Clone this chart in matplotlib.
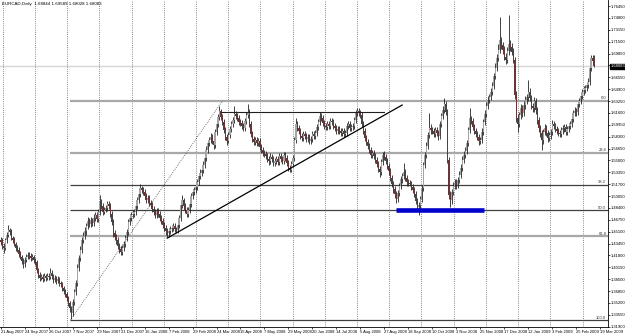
import matplotlib
matplotlib.use("Agg")
import matplotlib.pyplot as plt
import matplotlib.transforms as mtransforms
import numpy as np

plt.rcParams["font.family"] = ["Liberation Sans", "DejaVu Sans"]

# EURCAD daily, one row = 16 bars (one date label step)
first_open = 1.440
closes = [
    1.437, 1.431, 1.428, 1.439, 1.446, 1.453, 1.451, 1.442, 1.439, 1.434, 1.428, 1.426, 1.420, 1.416, 1.410, 1.406,
    1.412, 1.416, 1.419, 1.417, 1.414, 1.416, 1.412, 1.409, 1.398, 1.391, 1.387, 1.388, 1.385, 1.389, 1.387, 1.389,
    1.388, 1.394, 1.389, 1.384, 1.387, 1.382, 1.385, 1.380, 1.378, 1.373, 1.368, 1.364, 1.359, 1.352, 1.345, 1.338,
    1.353, 1.367, 1.380, 1.401, 1.414, 1.426, 1.439, 1.445, 1.452, 1.459, 1.466, 1.462, 1.467, 1.463, 1.470, 1.474,
    1.469, 1.478, 1.492, 1.487, 1.478, 1.481, 1.484, 1.489, 1.487, 1.476, 1.464, 1.449, 1.444, 1.439, 1.431, 1.427,
    1.423, 1.428, 1.434, 1.442, 1.451, 1.464, 1.470, 1.474, 1.476, 1.478, 1.487, 1.495, 1.503, 1.512, 1.509, 1.506,
    1.501, 1.495, 1.498, 1.491, 1.488, 1.483, 1.478, 1.474, 1.480, 1.476, 1.470, 1.466, 1.460, 1.456, 1.452, 1.449,
    1.452, 1.455, 1.456, 1.459, 1.455, 1.453, 1.460, 1.470, 1.488, 1.495, 1.487, 1.481, 1.476, 1.481, 1.489, 1.501,
    1.506, 1.509, 1.513, 1.520, 1.528, 1.533, 1.537, 1.544, 1.553, 1.565, 1.574, 1.578, 1.583, 1.577, 1.571, 1.590,
    1.601, 1.610, 1.619, 1.610, 1.603, 1.592, 1.583, 1.577, 1.585, 1.594, 1.601, 1.606, 1.615, 1.612, 1.609, 1.603,
    1.602, 1.598, 1.595, 1.605, 1.613, 1.617, 1.601, 1.587, 1.580, 1.576, 1.578, 1.574, 1.577, 1.569, 1.565, 1.560,
    1.559, 1.556, 1.552, 1.549, 1.555, 1.552, 1.546, 1.549, 1.552, 1.548, 1.556, 1.552, 1.549, 1.558, 1.553, 1.546,
    1.540, 1.537, 1.545, 1.553, 1.578, 1.601, 1.595, 1.591, 1.584, 1.581, 1.587, 1.584, 1.580, 1.583, 1.577, 1.580,
    1.587, 1.584, 1.588, 1.597, 1.603, 1.612, 1.609, 1.602, 1.598, 1.597, 1.601, 1.598, 1.605, 1.603, 1.598, 1.595,
    1.591, 1.594, 1.591, 1.588, 1.591, 1.587, 1.588, 1.598, 1.601, 1.595, 1.597, 1.598, 1.606, 1.616, 1.619, 1.616,
    1.613, 1.601, 1.591, 1.581, 1.576, 1.570, 1.565, 1.558, 1.560, 1.556, 1.551, 1.545, 1.538, 1.534, 1.548, 1.558,
    1.555, 1.549, 1.542, 1.535, 1.526, 1.517, 1.510, 1.503, 1.496, 1.505, 1.515, 1.524, 1.528, 1.534, 1.526, 1.520,
    1.519, 1.517, 1.513, 1.509, 1.503, 1.494, 1.485, 1.488, 1.496, 1.512, 1.544, 1.558, 1.570, 1.585, 1.595, 1.592,
    1.591, 1.587, 1.592, 1.588, 1.584, 1.601, 1.612, 1.620, 1.628, 1.617, 1.551, 1.502, 1.495, 1.506, 1.515, 1.519,
    1.516, 1.523, 1.530, 1.540, 1.551, 1.558, 1.563, 1.574, 1.592, 1.609, 1.605, 1.597, 1.591, 1.587, 1.583, 1.577,
    1.578, 1.590, 1.603, 1.615, 1.626, 1.634, 1.638, 1.645, 1.653, 1.667, 1.679, 1.692, 1.704, 1.717, 1.710, 1.704,
    1.694, 1.690, 1.702, 1.712, 1.708, 1.701, 1.690, 1.641, 1.609, 1.601, 1.613, 1.623, 1.616, 1.627, 1.634, 1.638,
    1.645, 1.637, 1.626, 1.623, 1.633, 1.620, 1.606, 1.595, 1.588, 1.578, 1.590, 1.595, 1.588, 1.581, 1.585, 1.590,
    1.601, 1.598, 1.594, 1.591, 1.588, 1.587, 1.592, 1.595, 1.597, 1.590, 1.594, 1.598, 1.601, 1.608, 1.616, 1.619,
    1.617, 1.628, 1.633, 1.640, 1.645, 1.648, 1.651, 1.655, 1.659, 1.679, 1.692, 1.688, 1.681,
]
highs = [
    1.444, 1.442, 1.435, 1.442, 1.450, 1.460, 1.456, 1.455, 1.445, 1.443, 1.437, 1.432, 1.429, 1.424, 1.419, 1.414,
    1.416, 1.420, 1.423, 1.423, 1.421, 1.420, 1.419, 1.415, 1.412, 1.401, 1.395, 1.392, 1.392, 1.393, 1.392, 1.393,
    1.393, 1.400, 1.398, 1.392, 1.391, 1.390, 1.389, 1.388, 1.383, 1.381, 1.376, 1.371, 1.367, 1.362, 1.355, 1.348,
    1.357, 1.372, 1.384, 1.406, 1.418, 1.431, 1.443, 1.450, 1.457, 1.463, 1.471, 1.470, 1.472, 1.470, 1.475, 1.479,
    1.479, 1.483, 1.502, 1.496, 1.491, 1.485, 1.488, 1.494, 1.493, 1.491, 1.480, 1.468, 1.453, 1.448, 1.443, 1.435,
    1.431, 1.432, 1.438, 1.446, 1.455, 1.468, 1.475, 1.478, 1.481, 1.482, 1.491, 1.499, 1.507, 1.517, 1.515, 1.513,
    1.510, 1.505, 1.502, 1.502, 1.495, 1.492, 1.487, 1.482, 1.484, 1.484, 1.480, 1.474, 1.470, 1.464, 1.460, 1.456,
    1.456, 1.459, 1.460, 1.463, 1.463, 1.458, 1.464, 1.474, 1.493, 1.502, 1.498, 1.491, 1.485, 1.485, 1.493, 1.505,
    1.510, 1.513, 1.518, 1.524, 1.532, 1.538, 1.541, 1.549, 1.558, 1.570, 1.579, 1.583, 1.588, 1.587, 1.581, 1.594,
    1.605, 1.615, 1.625, 1.622, 1.614, 1.607, 1.596, 1.587, 1.589, 1.598, 1.605, 1.610, 1.625, 1.619, 1.616, 1.613,
    1.607, 1.606, 1.602, 1.609, 1.617, 1.629, 1.621, 1.605, 1.591, 1.584, 1.582, 1.582, 1.581, 1.581, 1.573, 1.569,
    1.564, 1.563, 1.560, 1.556, 1.560, 1.559, 1.556, 1.553, 1.556, 1.556, 1.560, 1.560, 1.556, 1.562, 1.562, 1.557,
    1.550, 1.544, 1.549, 1.558, 1.583, 1.609, 1.605, 1.599, 1.595, 1.588, 1.591, 1.591, 1.588, 1.587, 1.587, 1.584,
    1.591, 1.591, 1.592, 1.601, 1.607, 1.617, 1.616, 1.613, 1.606, 1.602, 1.605, 1.605, 1.609, 1.609, 1.607, 1.602,
    1.599, 1.598, 1.598, 1.595, 1.595, 1.595, 1.592, 1.602, 1.605, 1.605, 1.601, 1.602, 1.610, 1.620, 1.623, 1.623,
    1.620, 1.617, 1.605, 1.595, 1.585, 1.580, 1.574, 1.569, 1.564, 1.564, 1.560, 1.555, 1.549, 1.542, 1.552, 1.562,
    1.563, 1.559, 1.553, 1.546, 1.539, 1.530, 1.521, 1.514, 1.507, 1.509, 1.519, 1.528, 1.532, 1.546, 1.538, 1.530,
    1.524, 1.523, 1.521, 1.517, 1.513, 1.507, 1.498, 1.492, 1.500, 1.516, 1.548, 1.562, 1.575, 1.590, 1.616, 1.600,
    1.596, 1.595, 1.596, 1.596, 1.592, 1.605, 1.616, 1.625, 1.637, 1.632, 1.621, 1.555, 1.507, 1.511, 1.520, 1.524,
    1.524, 1.527, 1.535, 1.545, 1.556, 1.563, 1.568, 1.579, 1.597, 1.623, 1.612, 1.609, 1.601, 1.595, 1.591, 1.587,
    1.583, 1.595, 1.608, 1.620, 1.631, 1.639, 1.643, 1.650, 1.659, 1.672, 1.685, 1.698, 1.712, 1.749, 1.722, 1.714,
    1.709, 1.700, 1.707, 1.752, 1.718, 1.713, 1.706, 1.694, 1.646, 1.614, 1.618, 1.628, 1.627, 1.632, 1.639, 1.643,
    1.662, 1.650, 1.641, 1.630, 1.638, 1.637, 1.624, 1.610, 1.599, 1.592, 1.594, 1.600, 1.599, 1.592, 1.589, 1.594,
    1.606, 1.605, 1.602, 1.598, 1.595, 1.592, 1.596, 1.599, 1.601, 1.601, 1.598, 1.602, 1.605, 1.612, 1.620, 1.624,
    1.623, 1.632, 1.637, 1.644, 1.649, 1.653, 1.655, 1.659, 1.664, 1.684, 1.697, 1.696, 1.696,
]
lows = [
    1.432, 1.427, 1.422, 1.425, 1.435, 1.443, 1.446, 1.439, 1.435, 1.431, 1.424, 1.423, 1.416, 1.413, 1.406, 1.401,
    1.402, 1.409, 1.413, 1.413, 1.410, 1.411, 1.408, 1.405, 1.394, 1.387, 1.383, 1.384, 1.381, 1.382, 1.383, 1.384,
    1.384, 1.385, 1.385, 1.380, 1.381, 1.378, 1.380, 1.376, 1.374, 1.369, 1.364, 1.360, 1.355, 1.347, 1.340, 1.330,
    1.334, 1.349, 1.363, 1.376, 1.396, 1.410, 1.421, 1.435, 1.441, 1.447, 1.455, 1.458, 1.457, 1.459, 1.459, 1.466,
    1.464, 1.465, 1.474, 1.482, 1.474, 1.475, 1.478, 1.480, 1.483, 1.472, 1.460, 1.444, 1.440, 1.434, 1.427, 1.422,
    1.418, 1.419, 1.424, 1.430, 1.438, 1.447, 1.460, 1.466, 1.470, 1.472, 1.474, 1.483, 1.491, 1.499, 1.505, 1.502,
    1.497, 1.491, 1.491, 1.487, 1.484, 1.479, 1.474, 1.470, 1.470, 1.472, 1.466, 1.462, 1.456, 1.452, 1.447, 1.444,
    1.444, 1.448, 1.451, 1.452, 1.451, 1.449, 1.449, 1.456, 1.466, 1.484, 1.483, 1.477, 1.472, 1.472, 1.477, 1.485,
    1.497, 1.502, 1.505, 1.509, 1.516, 1.524, 1.529, 1.533, 1.540, 1.549, 1.561, 1.570, 1.574, 1.573, 1.566, 1.567,
    1.586, 1.597, 1.606, 1.606, 1.599, 1.588, 1.579, 1.572, 1.574, 1.581, 1.590, 1.597, 1.602, 1.608, 1.605, 1.599,
    1.598, 1.594, 1.591, 1.591, 1.601, 1.609, 1.597, 1.583, 1.576, 1.572, 1.572, 1.570, 1.570, 1.565, 1.561, 1.556,
    1.555, 1.552, 1.548, 1.544, 1.545, 1.548, 1.542, 1.542, 1.545, 1.544, 1.544, 1.548, 1.545, 1.545, 1.549, 1.542,
    1.536, 1.534, 1.534, 1.541, 1.549, 1.574, 1.591, 1.587, 1.580, 1.577, 1.577, 1.580, 1.576, 1.576, 1.573, 1.573,
    1.576, 1.580, 1.580, 1.584, 1.593, 1.599, 1.605, 1.598, 1.594, 1.593, 1.593, 1.594, 1.594, 1.599, 1.594, 1.591,
    1.587, 1.587, 1.587, 1.584, 1.584, 1.583, 1.583, 1.584, 1.594, 1.591, 1.591, 1.593, 1.594, 1.602, 1.612, 1.612,
    1.609, 1.597, 1.587, 1.577, 1.572, 1.566, 1.561, 1.553, 1.554, 1.552, 1.547, 1.541, 1.534, 1.527, 1.530, 1.544,
    1.550, 1.545, 1.538, 1.530, 1.521, 1.513, 1.505, 1.498, 1.491, 1.492, 1.501, 1.511, 1.519, 1.524, 1.522, 1.515,
    1.515, 1.514, 1.509, 1.505, 1.499, 1.490, 1.481, 1.474, 1.483, 1.492, 1.508, 1.540, 1.554, 1.566, 1.581, 1.587,
    1.587, 1.583, 1.583, 1.584, 1.578, 1.580, 1.597, 1.608, 1.616, 1.613, 1.546, 1.497, 1.485, 1.490, 1.502, 1.510,
    1.511, 1.512, 1.519, 1.526, 1.536, 1.547, 1.554, 1.559, 1.570, 1.588, 1.600, 1.593, 1.587, 1.583, 1.579, 1.572,
    1.573, 1.574, 1.586, 1.599, 1.611, 1.621, 1.630, 1.634, 1.641, 1.649, 1.663, 1.675, 1.688, 1.700, 1.705, 1.698,
    1.689, 1.684, 1.685, 1.697, 1.702, 1.696, 1.685, 1.636, 1.603, 1.590, 1.597, 1.608, 1.611, 1.612, 1.622, 1.629,
    1.633, 1.632, 1.621, 1.618, 1.618, 1.615, 1.601, 1.590, 1.583, 1.564, 1.573, 1.585, 1.584, 1.576, 1.577, 1.580,
    1.586, 1.594, 1.590, 1.587, 1.584, 1.582, 1.583, 1.587, 1.590, 1.585, 1.586, 1.590, 1.594, 1.597, 1.604, 1.612,
    1.612, 1.613, 1.624, 1.629, 1.636, 1.641, 1.644, 1.647, 1.651, 1.655, 1.675, 1.683, 1.680,
]

date_labels = ["21 Aug 2007", "24 Sep 2007", "26 Oct 2007", "7 Nov 2007", "29 Nov 2007", "21 Dec 2007",
               "16 Jan 2008", "7 Feb 2008", "29 Feb 2008", "24 Mar 2008", "15 Apr 2008", "7 May 2008",
               "29 May 2008", "20 Jun 2008", "14 Jul 2008", "5 Aug 2008", "27 Aug 2008", "18 Sep 2008",
               "10 Oct 2008", "3 Nov 2008", "25 Nov 2008", "17 Dec 2008", "12 Jan 2009", "3 Feb 2009",
               "25 Feb 2009", "19 Mar 2009"]
price_ticks = [1.319, 1.3355, 1.352, 1.3685, 1.385, 1.4015, 1.418, 1.4345, 1.451, 1.4675, 1.484, 1.5005,
               1.517, 1.5335, 1.55, 1.5665, 1.583, 1.5995, 1.616, 1.6325, 1.649, 1.6655, 1.682, 1.6985,
               1.715, 1.7315, 1.748, 1.7645]

header = "EURCAD,Daily  1.68844 1.69589 1.68028 1.68083"
last_price = 1.68083

# fibonacci retracement (low of Nov 2007 to high of Mar 2008)
fib_low = 1.328
fib_high = 1.633
fib_low_bar = 46.5
fib_high_bar = 148
fib_levels = [0.0, 23.6, 38.2, 50.0, 61.8, 100.0]
fib_colors = ["#a8a8a8", "#a8a8a8", "#404040", "#404040", "#a8a8a8", "#404040"]

# hand drawn lines (bar, price)
trend_line = [(111.1, 1.442), (267.9, 1.627)]
top_line = [(146.8, 1.618), (256.0, 1.618)]
blue_zone = [(263.9, 1.481), (322.8, 1.481)]

# ---- build ohlc
closes = np.array(closes)
opens = np.r_[first_open, closes[:-1]]
highs = np.maximum(np.array(highs), np.maximum(opens, closes))
lows = np.minimum(np.array(lows), np.minimum(opens, closes))
x = np.arange(len(closes))

XMAX = 405.3

fig = plt.figure(figsize=(6.25, 3.35), dpi=100)
fig.patch.set_facecolor("white")
ax = fig.add_axes([0.0, 8 / 335, 608 / 625, 327 / 335])
ax.set_xlim(-0.5, XMAX)
ax.set_ylim(1.3185, 1.773)

# dotted vertical grid
for gx in np.arange(1.3, XMAX, 21.5):
    ax.axvline(gx, color="#606060", lw=0.6, ls=(0, (1, 1.6)), zorder=1)

# current price line
ax.axhline(last_price, color="#d6d6d6", lw=1.0, zorder=0.5)

# fibo levels
trans = mtransforms.blended_transform_factory(ax.transAxes, ax.transData)
for lev, col in zip(fib_levels, fib_colors):
    p = fib_high - lev / 100.0 * (fib_high - fib_low)
    lw = 1.6 if col == "#a8a8a8" else 0.9
    ax.hlines(p, fib_low_bar, XMAX, color=col, lw=lw, zorder=2)
    ax.text(0.997, p + 0.0008, "%.1f" % lev, transform=trans, ha="right", va="bottom",
            fontsize=3.0, color="#303030")
ax.plot([fib_low_bar, fib_high_bar], [fib_low, fib_high], color="#505050", lw=0.6,
        ls=(0, (1, 1.5)), zorder=2)

# candles
up = closes >= opens
body_bot = np.minimum(opens, closes)
body_h = np.maximum(np.abs(closes - opens), 0.0007)
ax.vlines(x, lows, highs, color="#222222", lw=0.6, zorder=3)
ax.bar(x[up], body_h[up], bottom=body_bot[up], width=0.8, color="#a4a4a4", lw=0, zorder=4)
ax.bar(x[~up], body_h[~up], bottom=body_bot[~up], width=0.8, color="#6a3434", lw=0, zorder=4)

# trend lines and blue zone
ax.plot(*zip(*trend_line), color="black", lw=0.9, zorder=5)
ax.plot(*zip(*top_line), color="#202020", lw=0.8, zorder=5)
ax.plot(*zip(*blue_zone), color="#0000cc", lw=3.3, solid_capstyle="butt", zorder=5)

# axes look
for s in ["top", "left"]:
    ax.spines[s].set_visible(False)
for s in ["right", "bottom"]:
    ax.spines[s].set_color("black")
    ax.spines[s].set_linewidth(0.6)

ax.yaxis.tick_right()
ax.set_yticks(price_ticks)
ax.set_yticklabels(["%.5f" % t for t in price_ticks])
ax.tick_params(axis="y", labelsize=3.0, length=1.5, width=0.5, pad=0.8)

ax.set_xticks(np.arange(len(date_labels)) * 16)
ax.set_xticklabels(date_labels, ha="left")
ax.tick_params(axis="x", labelsize=3.0, length=1.5, width=0.5, pad=0.8)
for lbl in ax.get_xticklabels():
    lbl.set_clip_on(False)

# header and price box
ax.text(0.003, 0.995, header, transform=ax.transAxes, ha="left", va="top", fontsize=3.2)
ax.text(1.005, last_price, "%.5f" % last_price, transform=trans, ha="left", va="center",
        fontsize=3.0, color="white",
        bbox=dict(boxstyle="square,pad=0.15", fc="black", ec="black"))

fig.savefig("out.png", dpi=100)
